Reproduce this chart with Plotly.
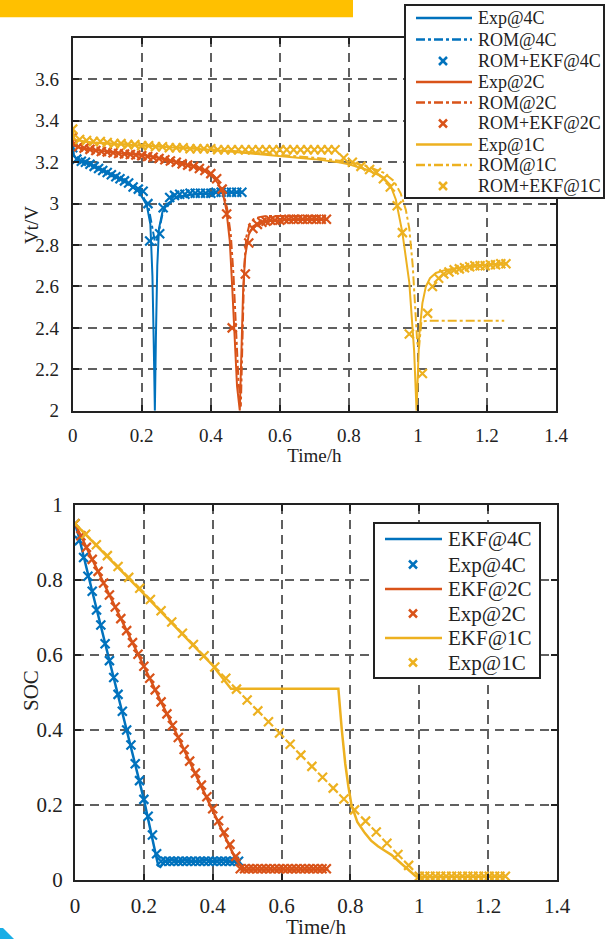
import plotly.graph_objects as go

# ---------------- Top plot data (Vt vs time) ----------------
t4_exp = [0, 0.003, 0.012, 0.05, 0.1, 0.15, 0.175, 0.19, 0.205, 0.215, 0.225, 0.231, 0.235, 0.238, 0.241, 0.245, 0.25, 0.26, 0.275, 0.3, 0.35, 0.4, 0.45, 0.49]
v4_exp = [3.28, 3.235, 3.215, 3.19, 3.15, 3.11, 3.08, 3.06, 3.02, 2.99, 2.9, 2.65, 2.3, 2.0, 2.35, 2.7, 2.88, 2.96, 3.0, 3.03, 3.045, 3.05, 3.055, 3.055]
t4_rom = [0, 0.003, 0.012, 0.05, 0.1, 0.15, 0.185, 0.205, 0.22, 0.232, 0.24, 0.248, 0.26, 0.28, 0.3, 0.35, 0.4, 0.45, 0.49]
v4_rom = [3.27, 3.235, 3.215, 3.19, 3.15, 3.11, 3.065, 3.03, 2.98, 2.88, 2.8, 2.85, 2.95, 3.0, 3.03, 3.045, 3.05, 3.055, 3.055]
t4_ekf = [0, 0.012, 0.025, 0.037, 0.05, 0.062, 0.075, 0.087, 0.1, 0.112, 0.125, 0.137, 0.15, 0.162, 0.175, 0.19, 0.204, 0.218, 0.223, 0.252, 0.262, 0.281, 0.295, 0.31, 0.325, 0.34, 0.355, 0.37, 0.385, 0.4, 0.415, 0.43, 0.445, 0.46, 0.475, 0.49]
v4_ekf = [3.27, 3.215, 3.205, 3.2, 3.19, 3.18, 3.17, 3.16, 3.15, 3.14, 3.13, 3.12, 3.11, 3.1, 3.08, 3.07, 3.06, 3.0, 2.82, 2.855, 2.98, 3.03, 3.04, 3.045, 3.045, 3.05, 3.05, 3.05, 3.05, 3.05, 3.055, 3.055, 3.055, 3.055, 3.055, 3.055]

t2_exp = [0, 0.005, 0.02, 0.05, 0.1, 0.15, 0.2, 0.25, 0.3, 0.35, 0.38, 0.405, 0.42, 0.435, 0.445, 0.455, 0.462, 0.469, 0.476, 0.484, 0.489, 0.494, 0.5, 0.51, 0.522, 0.54, 0.56, 0.6, 0.65, 0.7, 0.74]
v2_exp = [3.31, 3.28, 3.27, 3.262, 3.25, 3.24, 3.235, 3.22, 3.2, 3.18, 3.16, 3.13, 3.1, 3.05, 2.97, 2.82, 2.6, 2.35, 2.12, 2.0, 2.3, 2.6, 2.75, 2.85, 2.89, 2.91, 2.915, 2.92, 2.925, 2.925, 2.925]
t2_rom = [0, 0.005, 0.02, 0.05, 0.1, 0.15, 0.2, 0.25, 0.3, 0.35, 0.38, 0.405, 0.42, 0.435, 0.447, 0.458, 0.466, 0.473, 0.48, 0.487, 0.492, 0.497, 0.503, 0.512, 0.524, 0.54, 0.56, 0.6, 0.65, 0.7, 0.74]
v2_rom = [3.3, 3.28, 3.27, 3.262, 3.252, 3.245, 3.238, 3.222, 3.205, 3.185, 3.165, 3.14, 3.11, 3.06, 2.98, 2.85, 2.65, 2.4, 2.15, 2.02, 2.35, 2.7, 2.84, 2.9, 2.925, 2.935, 2.94, 2.94, 2.94, 2.94, 2.94]
t2_ekf = [0, 0.017, 0.033, 0.05, 0.067, 0.083, 0.1, 0.117, 0.133, 0.15, 0.167, 0.183, 0.2, 0.217, 0.233, 0.25, 0.267, 0.283, 0.3, 0.317, 0.333, 0.35, 0.367, 0.383, 0.4, 0.417, 0.433, 0.446, 0.462, 0.5, 0.51, 0.522, 0.535, 0.548, 0.56, 0.573, 0.586, 0.6, 0.613, 0.626, 0.64, 0.653, 0.666, 0.68, 0.693, 0.706, 0.72, 0.735]
v2_ekf = [3.32, 3.275, 3.268, 3.262, 3.257, 3.252, 3.25, 3.246, 3.242, 3.24, 3.237, 3.235, 3.232, 3.228, 3.224, 3.218, 3.212, 3.206, 3.2, 3.192, 3.186, 3.18, 3.17, 3.16, 3.145, 3.12, 3.07, 2.95, 2.4, 2.66, 2.81, 2.88, 2.9, 2.91, 2.915, 2.92, 2.92, 2.92, 2.925, 2.925, 2.925, 2.925, 2.925, 2.925, 2.925, 2.925, 2.925, 2.925]

t1_exp = [0, 0.005, 0.05, 0.2, 0.4, 0.5, 0.6, 0.7, 0.77, 0.8, 0.85, 0.898, 0.92, 0.936, 0.955, 0.975, 0.989, 0.996, 1.004, 1.013, 1.023, 1.035, 1.052, 1.08, 1.139, 1.2, 1.254]
v1_exp = [3.36, 3.31, 3.295, 3.28, 3.26, 3.245, 3.23, 3.215, 3.2, 3.19, 3.165, 3.13, 3.09, 3.02, 2.86, 2.62, 2.29, 2.0, 2.37, 2.52, 2.6, 2.64, 2.665, 2.68, 2.695, 2.705, 2.71]
t1_rom = [0, 0.005, 0.05, 0.2, 0.4, 0.5, 0.6, 0.7, 0.8, 0.85, 0.9, 0.93, 0.95, 0.965, 0.975, 0.985, 0.992, 0.998, 1.003, 1.01, 1.03, 1.1, 1.2, 1.25]
v1_rom = [3.35, 3.31, 3.297, 3.283, 3.263, 3.25, 3.237, 3.222, 3.202, 3.182, 3.15, 3.11, 3.05, 2.97, 2.88, 2.7, 2.5, 2.33, 2.3, 2.43, 2.435, 2.435, 2.435, 2.435]
t1_ekf = [0, 0.02, 0.04, 0.06, 0.08, 0.1, 0.12, 0.14, 0.16, 0.18, 0.2, 0.22, 0.24, 0.26, 0.28, 0.3, 0.32, 0.34, 0.36, 0.38, 0.4, 0.42, 0.44, 0.46, 0.48, 0.5, 0.52, 0.54, 0.56, 0.58, 0.6, 0.62, 0.64, 0.66, 0.68, 0.7, 0.72, 0.74, 0.76,
          0.785, 0.81, 0.835, 0.86, 0.88, 0.9, 0.92, 0.94, 0.955, 0.975, 1.013, 1.028, 1.042, 1.06, 1.075, 1.09, 1.105, 1.12, 1.135, 1.15, 1.165, 1.18, 1.195, 1.21, 1.225, 1.24, 1.255]
v1_ekf = [3.36, 3.31, 3.305, 3.3, 3.3, 3.295, 3.29, 3.29, 3.285, 3.285, 3.28, 3.28, 3.275, 3.275, 3.27, 3.27, 3.27, 3.265, 3.265, 3.265, 3.265, 3.26, 3.26, 3.26, 3.26, 3.26, 3.26, 3.26, 3.26, 3.26, 3.26, 3.26, 3.26, 3.26, 3.26, 3.26, 3.26, 3.26, 3.26,
          3.22, 3.2, 3.18, 3.165, 3.15, 3.12, 3.08, 2.99, 2.86, 2.37, 2.18, 2.47, 2.6, 2.64, 2.66, 2.67, 2.68, 2.685, 2.69, 2.695, 2.7, 2.7, 2.7, 2.705, 2.705, 2.71, 2.71]

# ---------------- Bottom plot data (SOC vs time) ----------------
s4_t = [0, 0.01, 0.05, 0.1, 0.15, 0.2, 0.236, 0.242, 0.248, 0.26, 0.28, 0.3, 0.32, 0.35, 0.38, 0.4, 0.43, 0.45, 0.481]
s4_v = [0.95, 0.92, 0.77, 0.585, 0.4, 0.215, 0.062, 0.038, 0.035, 0.05, 0.054, 0.05, 0.053, 0.049, 0.054, 0.05, 0.053, 0.05, 0.052]
e4_t = [0, 0.0125, 0.025, 0.0375, 0.05, 0.0625, 0.075, 0.0875, 0.1, 0.1125, 0.125, 0.1375, 0.15, 0.1625, 0.175, 0.1875, 0.2, 0.2125, 0.225, 0.237,
        0.25, 0.2625, 0.275, 0.2875, 0.3, 0.3125, 0.325, 0.3375, 0.35, 0.3625, 0.375, 0.3875, 0.4, 0.4125, 0.425, 0.4375, 0.45, 0.4625, 0.475]
e4_v = [0.95, 0.905, 0.86, 0.81, 0.77, 0.72, 0.68, 0.63, 0.585, 0.54, 0.495, 0.45, 0.4, 0.36, 0.31, 0.265, 0.215, 0.17, 0.12, 0.07,
        0.05, 0.05, 0.05, 0.05, 0.05, 0.05, 0.05, 0.05, 0.05, 0.05, 0.05, 0.05, 0.05, 0.05, 0.05, 0.05, 0.05, 0.05, 0.05]

s2_t = [0, 0.05, 0.1, 0.2, 0.3, 0.4, 0.467, 0.49, 0.5, 0.6, 0.7, 0.736]
s2_v = [0.95, 0.855, 0.76, 0.57, 0.38, 0.185, 0.055, 0.027, 0.028, 0.028, 0.028, 0.028]
e2_t = [0, 0.017, 0.033, 0.05, 0.067, 0.083, 0.1, 0.117, 0.133, 0.15, 0.167, 0.183, 0.2, 0.217, 0.233, 0.25, 0.267, 0.283, 0.3, 0.317, 0.333, 0.35, 0.367, 0.383, 0.4, 0.417, 0.433, 0.45, 0.467,
        0.48, 0.4925, 0.505, 0.5175, 0.53, 0.5425, 0.555, 0.5675, 0.58, 0.5925, 0.605, 0.6175, 0.63, 0.6425, 0.655, 0.6675, 0.68, 0.6925, 0.705, 0.7175, 0.73]
e2_v = [0.95, 0.918, 0.887, 0.855, 0.823, 0.792, 0.76, 0.728, 0.697, 0.665, 0.633, 0.602, 0.57, 0.538, 0.507, 0.475, 0.443, 0.412, 0.38, 0.348, 0.317, 0.285, 0.253, 0.222, 0.19, 0.158, 0.127, 0.095, 0.063,
        0.03, 0.03, 0.03, 0.03, 0.03, 0.03, 0.03, 0.03, 0.03, 0.03, 0.03, 0.03, 0.03, 0.03, 0.03, 0.03, 0.03, 0.03, 0.03, 0.03, 0.03]

s1_t = [0, 0.1, 0.2, 0.3, 0.4, 0.453, 0.5, 0.6, 0.7, 0.765, 0.775, 0.785, 0.794, 0.803, 0.82, 0.842, 0.86, 0.88, 0.9, 0.919, 0.94, 0.957, 0.975, 0.99, 1.0, 1.05, 1.1, 1.2, 1.25]
s1_v = [0.95, 0.857, 0.763, 0.667, 0.572, 0.51, 0.51, 0.51, 0.51, 0.51, 0.4, 0.31, 0.25, 0.2, 0.155, 0.125, 0.105, 0.09, 0.078, 0.067, 0.05, 0.036, 0.02, 0.01, 0.008, 0.008, 0.009, 0.008, 0.009]
e1_t = [0, 0.031, 0.062, 0.094, 0.125, 0.156, 0.188, 0.219, 0.25, 0.281, 0.312, 0.344, 0.375, 0.406, 0.438, 0.469, 0.5, 0.531, 0.562, 0.594, 0.625, 0.656, 0.688, 0.719, 0.75, 0.781, 0.812, 0.844, 0.875, 0.906, 0.938, 0.969, 1.0,
        1.016, 1.031, 1.047, 1.062, 1.078, 1.094, 1.109, 1.125, 1.141, 1.156, 1.172, 1.188, 1.203, 1.219, 1.234, 1.25]
e1_v = [0.95, 0.922, 0.894, 0.865, 0.836, 0.807, 0.778, 0.748, 0.718, 0.688, 0.658, 0.628, 0.598, 0.568, 0.538, 0.509, 0.48, 0.451, 0.422, 0.392, 0.362, 0.333, 0.303, 0.274, 0.245, 0.216, 0.187, 0.157, 0.128, 0.098, 0.068, 0.039, 0.01,
        0.01, 0.01, 0.01, 0.01, 0.01, 0.01, 0.01, 0.01, 0.01, 0.01, 0.01, 0.01, 0.01, 0.01, 0.01, 0.01]

x_ticks = [0, 0.2, 0.4, 0.6, 0.8, 1, 1.2, 1.4]
x_labels = ["0", "0.2", "0.4", "0.6", "0.8", "1", "1.2", "1.4"]
vt_ticks = [2, 2.2, 2.4, 2.6, 2.8, 3, 3.2, 3.4, 3.6]
vt_labels = ["2", "2.2", "2.4", "2.6", "2.8", "3", "3.2", "3.4", "3.6"]
soc_ticks = [0, 0.2, 0.4, 0.6, 0.8, 1]
soc_labels = ["0", "0.2", "0.4", "0.6", "0.8", "1"]

top_legend_labels = ["Exp@4C", "ROM@4C", "ROM+EKF@4C", "Exp@2C", "ROM@2C", "ROM+EKF@2C", "Exp@1C", "ROM@1C", "ROM+EKF@1C"]
bot_legend_labels = ["EKF@4C", "Exp@4C", "EKF@2C", "Exp@2C", "EKF@1C", "Exp@1C"]

# ---------------- Styling ----------------
W, H = 605, 939
BLUE, RED, YEL = '#0072BD', '#D95319', '#EDB120'
FONT = 'Liberation Serif, Times New Roman, serif'
INK = '#222'

def pxx(x):
    return x / W

def pyy(y):
    return 1 - y / H

fig = go.Figure()

def line(x, y, color, name, dash='solid', xa='x', ya='y', width=2):
    fig.add_trace(go.Scatter(x=x, y=y, mode='lines', name=name, xaxis=xa, yaxis=ya, showlegend=False,
                             line=dict(color=color, width=width, dash=dash)))

def marks(x, y, color, name, xa='x', ya='y'):
    fig.add_trace(go.Scatter(x=x, y=y, mode='markers', name=name, xaxis=xa, yaxis=ya, showlegend=False,
                             marker=dict(symbol='x-thin', size=9, color=color,
                                         line=dict(color=color, width=2.2))))

# top
line(t4_exp, v4_exp, BLUE, 'Exp@4C')
line(t4_rom, v4_rom, BLUE, 'ROM@4C', dash='dashdot')
marks(t4_ekf, v4_ekf, BLUE, 'ROM+EKF@4C')
line(t2_exp, v2_exp, RED, 'Exp@2C')
line(t2_rom, v2_rom, RED, 'ROM@2C', dash='dashdot')
marks(t2_ekf, v2_ekf, RED, 'ROM+EKF@2C')
line(t1_exp, v1_exp, YEL, 'Exp@1C')
line(t1_rom, v1_rom, YEL, 'ROM@1C', dash='dashdot')
marks(t1_ekf, v1_ekf, YEL, 'ROM+EKF@1C')

# bottom
line(s4_t, s4_v, BLUE, 'EKF@4C', xa='x2', ya='y2', width=2.5)
marks(e4_t, e4_v, BLUE, 'Exp@4C', xa='x2', ya='y2')
line(s2_t, s2_v, RED, 'EKF@2C', xa='x2', ya='y2', width=2.5)
marks(e2_t, e2_v, RED, 'Exp@2C', xa='x2', ya='y2')
line(s1_t, s1_v, YEL, 'EKF@1C', xa='x2', ya='y2', width=2.5)
marks(e1_t, e1_v, YEL, 'Exp@1C', xa='x2', ya='y2')

def axis(domain, rng, tv, tt, fsize, title, anchor, standoff, tstand):
    d = dict(domain=domain, range=rng, tickvals=tv, ticktext=tt, anchor=anchor,
             automargin=False,
             showline=True, linecolor=INK, linewidth=2, mirror='ticks',
             ticks='inside', ticklen=6, tickwidth=2, tickcolor=INK,
             showgrid=True, gridcolor='#606060', gridwidth=2, griddash='9px,6px',
             zeroline=False, ticklabelstandoff=standoff,
             tickfont=dict(family=FONT, size=fsize, color=INK))
    if title:
        d['title'] = dict(text=title, font=dict(family=FONT, size=fsize, color=INK), standoff=tstand)
    return d

shapes = [
    dict(type='rect', xref='paper', yref='paper', x0=0, x1=pxx(353), y0=pyy(17.3), y1=1,
         fillcolor='#FFC000', line=dict(width=0), layer='above'),
    dict(type='path', xref='paper', yref='paper',
         path=f"M 0 {pyy(928)} L {pxx(3)} {pyy(928)} L {pxx(14)} {pyy(939)} L 0 {pyy(939)} Z",
         fillcolor='#19AEE6', line=dict(width=0), layer='above'),
]
annotations = [
    dict(xref='paper', yref='paper', x=pxx(31), y=pyy(225), text='Vt/V', textangle=-90, showarrow=False,
         xanchor='center', yanchor='middle', font=dict(family=FONT, size=19, color=INK)),
    dict(xref='paper', yref='paper', x=pxx(31), y=pyy(691), text='SOC', textangle=-90, showarrow=False,
         xanchor='center', yanchor='middle', font=dict(family=FONT, size=21, color=INK)),
]

def manual_legend(box, rows, labels, kinds, colors, lx0, lx1, mx, tx, fsize, mhalf):
    x0, y0, x1, y1 = box
    shapes.append(dict(type='rect', xref='paper', yref='paper', x0=pxx(x0), x1=pxx(x1), y0=pyy(y1), y1=pyy(y0),
                       fillcolor='white', line=dict(color=INK, width=2), layer='above'))
    for ry, lab, kind, col in zip(rows, labels, kinds, colors):
        if kind in ('solid', 'dashdot'):
            shapes.append(dict(type='line', xref='paper', yref='paper', x0=pxx(lx0), x1=pxx(lx1), y0=pyy(ry), y1=pyy(ry),
                               line=dict(color=col, width=2.5, dash=kind), layer='above'))
        else:
            for sgn in (1, -1):
                shapes.append(dict(type='line', xref='paper', yref='paper',
                                   x0=pxx(mx - mhalf), x1=pxx(mx + mhalf),
                                   y0=pyy(ry - sgn * mhalf), y1=pyy(ry + sgn * mhalf),
                                   line=dict(color=col, width=2.5), layer='above'))
        annotations.append(dict(xref='paper', yref='paper', x=pxx(tx), y=pyy(ry), xanchor='left', yanchor='middle',
                                text=lab, showarrow=False, font=dict(family=FONT, size=fsize, color=INK)))

top_rows = [18, 39.5, 61, 82, 102.5, 123.5, 144.5, 165, 186]
manual_legend((405, 5, 604, 198), top_rows, top_legend_labels,
              ['solid', 'dashdot', 'x'] * 3, [BLUE] * 3 + [RED] * 3 + [YEL] * 3,
              416, 472, 443, 476, 18, 4)
bot_rows = [539, 564.5, 589, 613.5, 638, 662.5]
manual_legend((374, 523, 540, 678), bot_rows, bot_legend_labels,
              ['solid', 'x'] * 3, [BLUE] * 2 + [RED] * 2 + [YEL] * 2,
              385, 442, 413, 446, 21, 4)

fig.update_layout(
    width=W, height=H, margin=dict(l=0, r=0, t=0, b=0, pad=0, autoexpand=False),
    paper_bgcolor='white', plot_bgcolor='white',
    xaxis=axis([pxx(72.7), pxx(556)], [0, 1.4], x_ticks, x_labels, 19, 'Time/h', 'y', 6, 4),
    yaxis=axis([pyy(410.7), pyy(38)], [2, 3.8], vt_ticks, vt_labels, 19, None, 'x', 8, 6),
    xaxis2=axis([pxx(75), pxx(557)], [0, 1.4], x_ticks, x_labels, 21, 'Time/h', 'y2', 6, 2),
    yaxis2=axis([pyy(880), pyy(505)], [0, 1], soc_ticks, soc_labels, 21, None, 'x2', 6, 6),
    shapes=shapes, annotations=annotations,
    showlegend=False,
)

fig.write_html("out.html")
with open("out.html", "r", encoding="utf-8") as f:
    html = f.read()
html = html.replace("<head>", "<head><style>html,body{margin:0;padding:0;overflow:hidden;}</style>", 1)
with open("out.html", "w", encoding="utf-8") as f:
    f.write(html)
